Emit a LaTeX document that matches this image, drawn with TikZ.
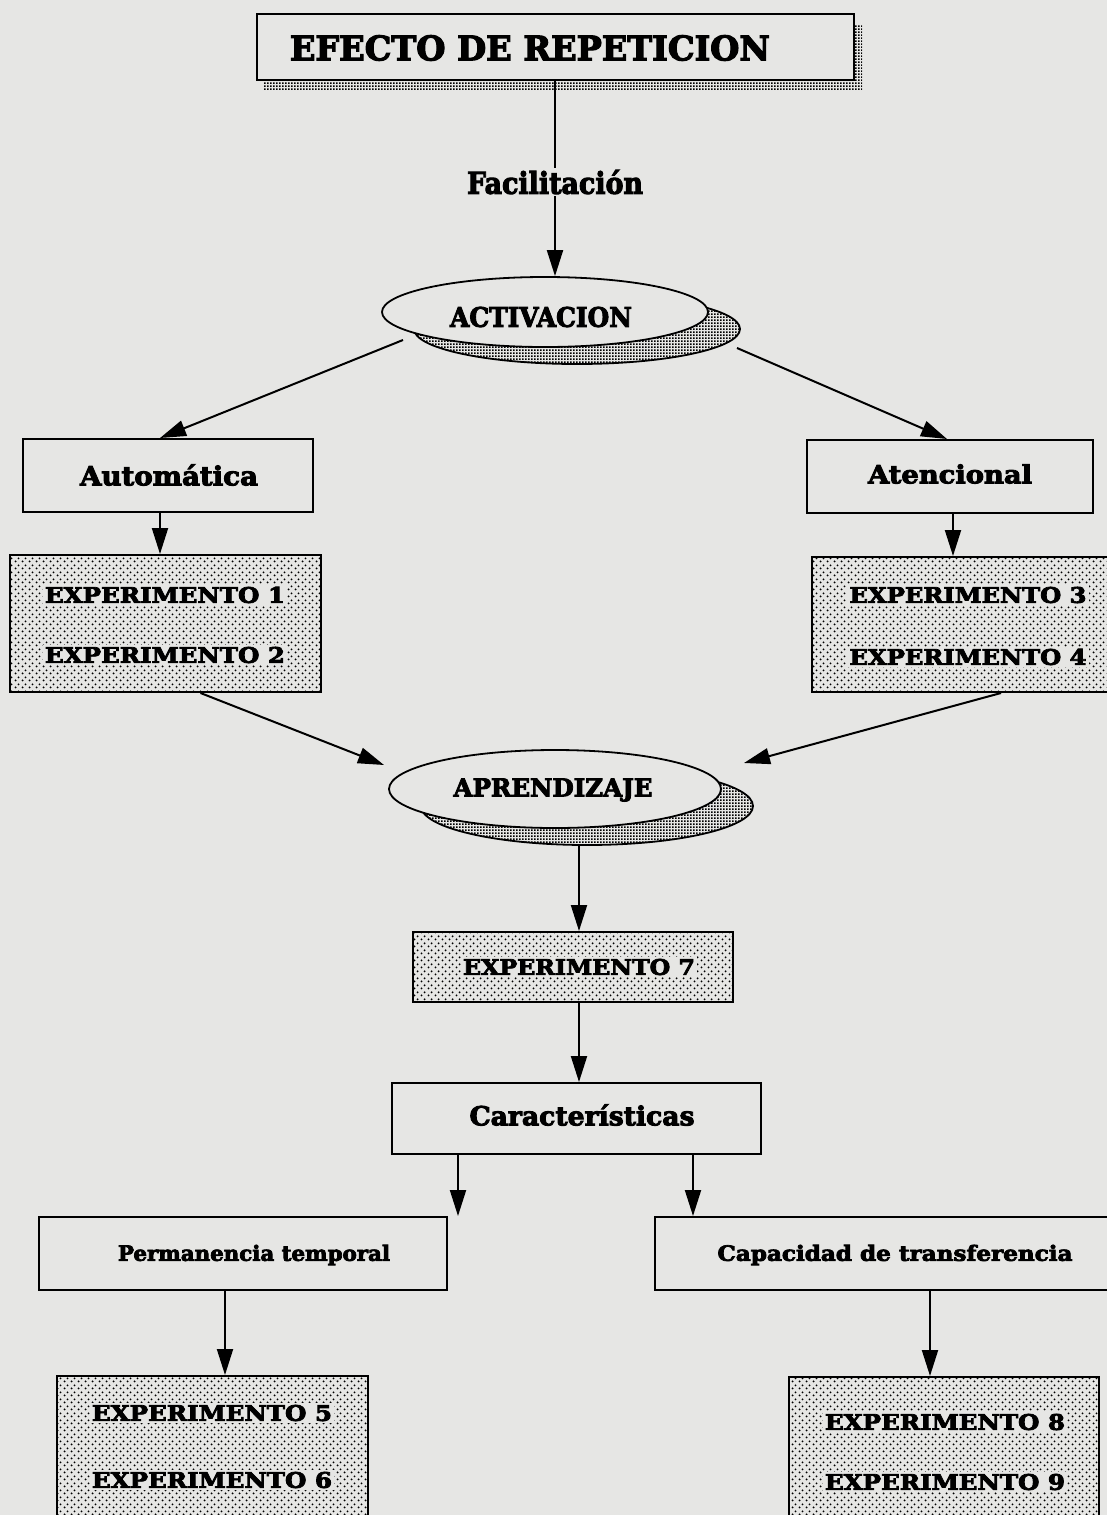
\documentclass[tikz,border=0pt]{standalone}
\usepackage{fontspec}
\setmainfont{DejaVu Serif}
\newfontfamily\slab{DejaVu Serif}[BoldFeatures={FakeBold=3.5}]
\usetikzlibrary{arrows.meta,shapes.geometric,patterns.meta}
\definecolor{paper}{RGB}{230,230,228}

% heavy slab text scaled to a given width and height above the baseline (pt)
\newcommand\fitwh[3]{\resizebox{#1pt}{#2pt}{\slab\bfseries #3}}

% coarse stipple used inside the experiment boxes
\tikzdeclarepattern{
  name=stipple,
  type=uncolored,
  bounding box={(0pt,0pt) and (7pt,7pt)},
  tile size={(7pt,7pt)},
  code={
    \fill (1.75pt,1.75pt) circle (1.15pt);
    \fill (5.25pt,5.25pt) circle (1.15pt);
  }
}
% dense screen used for the drop shadows
\tikzdeclarepattern{
  name=screen,
  type=uncolored,
  bounding box={(0pt,0pt) and (3pt,3pt)},
  tile size={(3pt,3pt)},
  code={
    \fill (0pt,0pt) rectangle (2.2pt,2.2pt);
  }
}

\tikzset{
  box/.style={draw, line width=2pt, rectangle, inner sep=0pt, fill=paper},
  expbox/.style={draw, line width=2pt, rectangle, inner sep=0pt, pattern=stipple, pattern color=black},
  oval/.style={draw, line width=1.8pt, ellipse, inner sep=0pt, fill=paper},
  ovalshadow/.style={draw, line width=1.8pt, ellipse, inner sep=0pt, pattern=screen, pattern color=black},
  exptext/.style={fill=paper, inner sep=2pt},
  plain/.style={inner sep=2pt},
  conn/.style={line width=2pt},
  arr/.style={line width=2pt, -{Triangle[length=26pt,width=16pt]}},
}

\begin{document}
\begin{tikzpicture}[x=1pt,y=-1pt]
  \fill[paper] (0,0) rectangle (1107,1515);
  \useasboundingbox (0,0) rectangle (1107,1515);
  \clip (0,0) rectangle (1107,1515);

  % title with its shadow
  \fill[pattern=screen, pattern color=black] (264,24) rectangle (862,90);
  \node[box, minimum width=597pt, minimum height=66pt] (title) at (555,47) {};
  \node[plain] (titletext) at (530,48) {\fitwh{480}{25}{EFECTO DE REPETICION}};

  \node[plain] (fac) at (555,182) {\fitwh{176}{24}{Facilitación}};

  % ACTIVACION
  \node[ovalshadow, minimum width=326pt, minimum height=70pt] (actS) at (577,329) {};
  \node[oval, minimum width=326pt, minimum height=70pt] (act) at (545,312) {};
  \node[plain] (acttext) at (541,317) {\fitwh{182}{20}{ACTIVACION}};

  \node[box, minimum width=290pt, minimum height=73pt] (auto) at (168,475.5) {};
  \node[plain] (autotext) at (169,475) {\fitwh{178}{21}{Automática}};
  \node[box, minimum width=286pt, minimum height=73pt] (aten) at (950,476.5) {};
  \node[plain] (atentext) at (950,474) {\fitwh{164}{19}{Atencional}};

  \node[expbox, minimum width=311pt, minimum height=137pt] (exp12) at (165.5,623.5) {};
  \node[exptext] (t1) at (165,595) {\fitwh{240}{16}{EXPERIMENTO 1}};
  \node[exptext] (t2) at (165,655) {\fitwh{240}{16}{EXPERIMENTO 2}};
  \node[expbox, minimum width=298pt, minimum height=135pt] (exp34) at (961,624.5) {};
  \node[exptext] (t3) at (968,595) {\fitwh{237}{16}{EXPERIMENTO 3}};
  \node[exptext] (t4) at (968,657) {\fitwh{237}{16}{EXPERIMENTO 4}};

  % APRENDIZAJE
  \node[ovalshadow, minimum width=332pt, minimum height=78pt] (aprS) at (587,806) {};
  \node[oval, minimum width=332pt, minimum height=78pt] (apr) at (555,789) {};
  \node[plain] (aprtext) at (553,790) {\fitwh{199}{18}{APRENDIZAJE}};

  \node[expbox, minimum width=320pt, minimum height=70pt] (exp7) at (573,967) {};
  \node[exptext] (t7) at (579,967) {\fitwh{232}{16}{EXPERIMENTO 7}};

  \node[box, minimum width=369pt, minimum height=71pt] (car) at (576.5,1118.5) {};
  \node[plain] (cartext) at (582,1115) {\fitwh{225}{21}{Características}};

  \node[box, minimum width=408pt, minimum height=73pt] (perm) at (243,1253.5) {};
  \node[plain] (permtext) at (254,1255) {\fitwh{272}{16}{Permanencia temporal}};
  \node[box, minimum width=457pt, minimum height=73pt] (cap) at (883.5,1253.5) {};
  \node[plain] (captext) at (895,1255) {\fitwh{355}{16}{Capacidad de transferencia}};

  \node[expbox, minimum width=311pt, minimum height=148pt] (exp56) at (212.5,1450) {};
  \node[exptext] (t5) at (212,1413) {\fitwh{240}{16}{EXPERIMENTO 5}};
  \node[exptext] (t6) at (212,1480) {\fitwh{240}{16}{EXPERIMENTO 6}};
  \node[expbox, minimum width=310pt, minimum height=146pt] (exp89) at (944,1450) {};
  \node[exptext] (t8) at (945,1422) {\fitwh{240}{16}{EXPERIMENTO 8}};
  \node[exptext] (t9) at (945,1482) {\fitwh{240}{16}{EXPERIMENTO 9}};

  % free ends of the slanted connectors at the ovals
  \coordinate (actL) at (403,340);
  \coordinate (actR) at (737,348);
  \coordinate (aprL) at (384,765);
  \coordinate (aprR) at (744,763);

  % connectors
  \draw[conn] (title.south) -- (fac.north);
  \draw[arr] (fac.south) -- (fac.south |- act.north);
  \draw[arr] (actL) -- ([xshift=-8pt]auto.north);
  \draw[arr] (actR) -- ([xshift=-3pt]aten.north);
  \draw[arr] ([xshift=-8pt]auto.south) -- ([xshift=-8pt]auto.south |- exp12.north);
  \draw[arr] ([xshift=3pt]aten.south) -- ([xshift=3pt]aten.south |- exp34.north);
  \draw[arr] ([xshift=35pt]exp12.south) -- (aprL);
  \draw[arr] ([xshift=40pt]exp34.south) -- (aprR);
  \draw[arr] (aprS.south -| t7) -- (exp7.north -| t7);
  \draw[arr] (exp7.south -| t7) -- (car.north -| t7);
  \draw[arr] (car.south -| 458,0) -- (perm.north -| 458,0);
  \draw[arr] (car.south -| 693,0) -- (cap.north -| 693,0);
  \draw[arr] (perm.south -| 225,0) -- (exp56.north -| 225,0);
  \draw[arr] (cap.south -| 930,0) -- (exp89.north -| 930,0);
\end{tikzpicture}
\end{document}
